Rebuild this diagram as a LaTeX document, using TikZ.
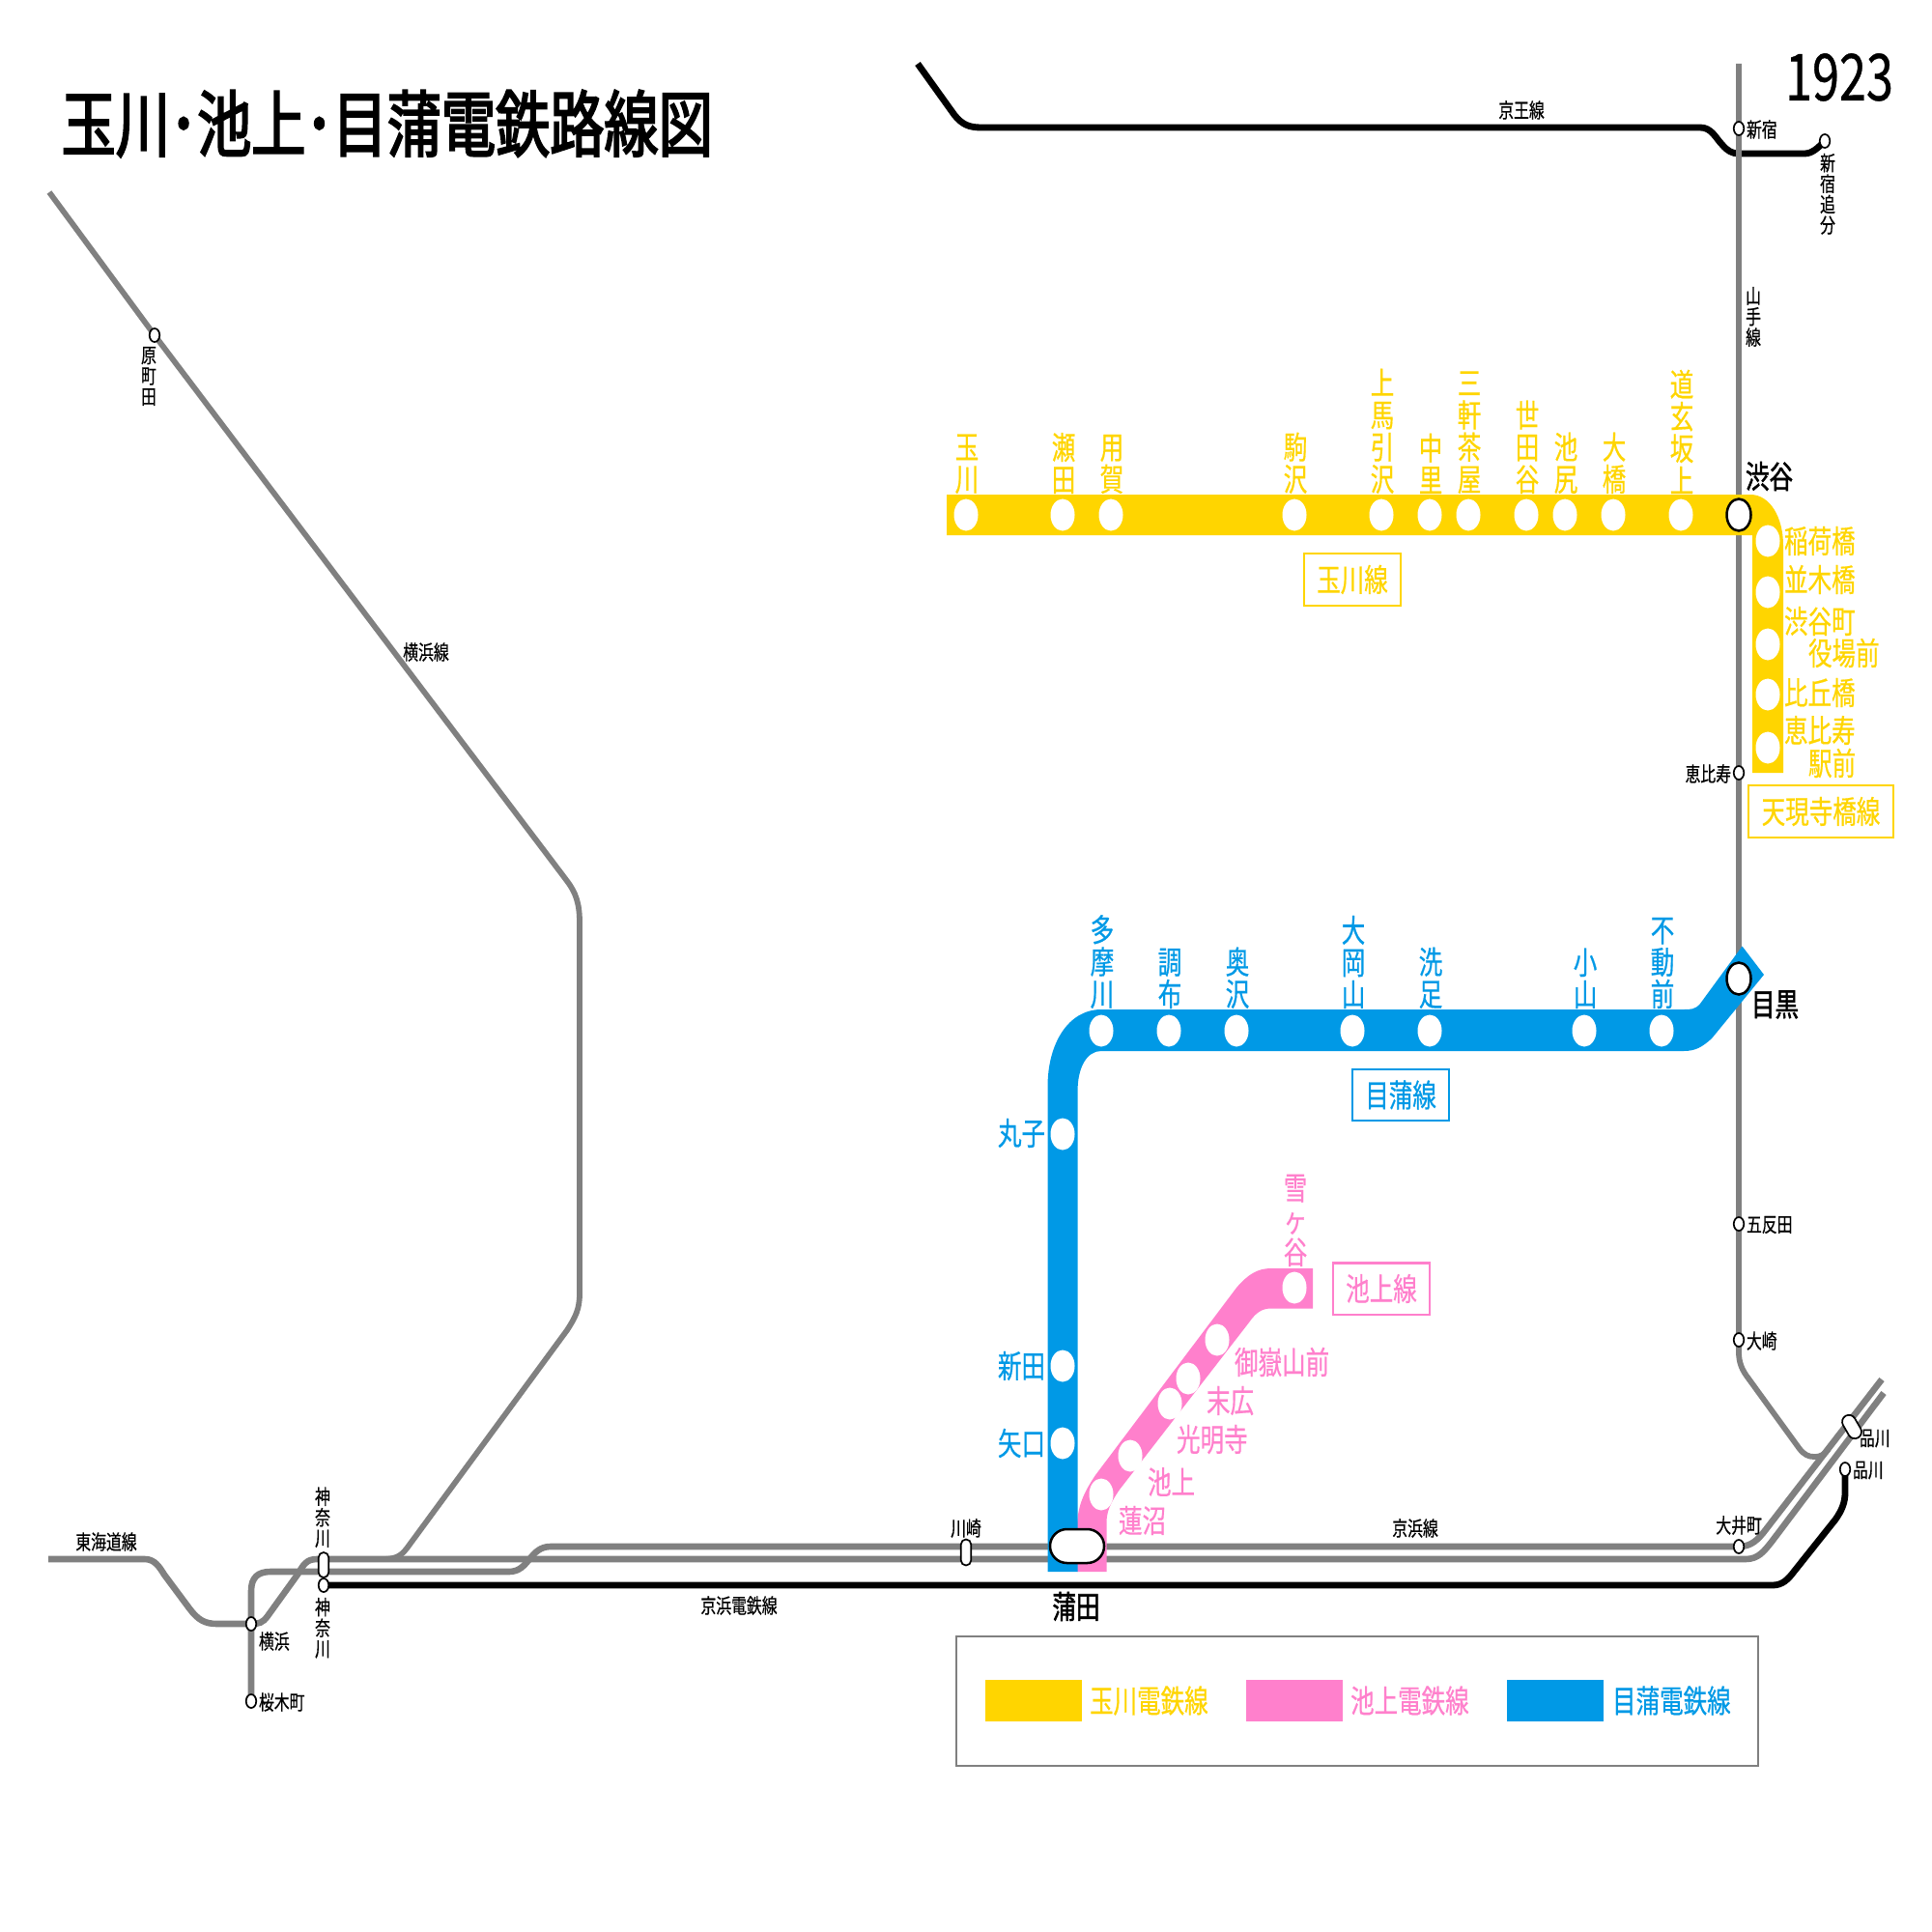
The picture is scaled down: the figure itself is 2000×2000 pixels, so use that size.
\documentclass[tikz,border=0pt]{standalone}
\usepackage{fontspec}
\setmainfont[FakeStretch=.75,FakeBold=.5]{Noto Sans CJK JP}
\newfontfamily\heavyfont[FakeStretch=.75,FakeBold=1.6]{Noto Sans CJK JP}
\newfontfamily\titlefont[FakeStretch=.75,FakeBold=2.6]{Noto Sans CJK JP}
\usetikzlibrary{shapes.geometric,shapes.misc,backgrounds}
\definecolor{tamaYellow}{HTML}{FFD500}
\definecolor{ikePink}{HTML}{FF80CC}
\definecolor{mekaBlue}{HTML}{0099E6}
\definecolor{jrGray}{HTML}{808080}
\newcommand{\fbig}{\fontsize{9.3}{9.45}\selectfont}
\newcommand{\fsmall}{\fontsize{6}{6.1}\selectfont}
\lineskiplimit=-6pt
\tikzset{
  stn/.style={ellipse,fill=white,inner sep=0,outer sep=0,minimum width=2.5mm,minimum height=3.3mm},
  hub/.style={stn,draw=black,line width=.25mm},
  stop/.style={ellipse,draw=black,fill=white,line width=.17mm,inner sep=0,outer sep=0,minimum width=1.05mm,minimum height=1.4mm},
  capsule/.style={rounded rectangle,draw=black,fill=white,line width=.17mm,inner sep=0,outer sep=0,minimum height=1.05mm},
  txt/.style={inner sep=0,outer sep=0,align=center,font=\fsmall},
  ytxt/.style={inner sep=0,outer sep=0,align=center,font=\fbig,text=tamaYellow},
  ptxt/.style={inner sep=0,outer sep=0,align=center,font=\fbig,text=ikePink},
  btxt/.style={inner sep=0,outer sep=0,align=center,font=\fbig,text=mekaBlue},
  mtxt/.style={inner sep=0,outer sep=0,align=center,font=\fbig\heavyfont},
  gline/.style={draw=jrGray,line width=.66mm},
  thinline/.style={draw=jrGray,line width=.58mm},
  kline/.style={draw=black,line width=.68mm},
  linebox/.style={draw,line width=.2mm,minimum width=10mm,minimum height=5.3mm,inner sep=0,outer sep=0,font=\fbig},
  swatch/.style={minimum width=10mm,minimum height=4.3mm,inner sep=0,outer sep=0}
}
\begin{document}
\begin{tikzpicture}[x=.01cm,y=-.01cm]
\useasboundingbox (0,0) rectangle (2000,2000);
\node[inner sep=0,anchor=west,font=\fontsize{21.3}{21.3}\selectfont\titlefont] (title) at (63,128) {玉川･池上･目蒲電鉄路線図};
\node[inner sep=0,font=\fontsize{19.1}{19}\selectfont] (year) at (1904,80) {1923};
% tamagawa line
\node[stn] (tamagawa) at (1000,533) {};
\node[stn] (seta) at (1100,533) {};
\node[stn] (yoga) at (1150,533) {};
\node[stn] (komazawa) at (1340,533) {};
\node[stn] (kamiuma) at (1430,533) {};
\node[stn] (nakazato) at (1480,533) {};
\node[stn] (sangen) at (1520,533) {};
\node[stn] (setagaya) at (1580,533) {};
\node[stn] (ikejiri) at (1620,533) {};
\node[stn] (ohashi) at (1670,533) {};
\node[stn] (dogen) at (1740,533) {};
\node[hub] (shibuya) at (1800,533) {};
\node[stn] (inari) at (1830,560) {};
\node[stn] (namiki) at (1830,613) {};
\node[stn] (yakuba) at (1830,667) {};
\node[stn] (hikuhashi) at (1830,719) {};
\node[stn] (ebisueki) at (1830,774) {};
\node[ytxt,anchor=south] (tamagawaT) at (1001,511) {玉\\川};
\node[ytxt,anchor=south] (setaT) at (1101,511) {瀬\\田};
\node[ytxt,anchor=south] (yogaT) at (1151,511) {用\\賀};
\node[ytxt,anchor=south] (komazawaT) at (1341,511) {駒\\沢};
\node[ytxt,anchor=south] (kamiumaT) at (1431,511) {上\\馬\\引\\沢};
\node[ytxt,anchor=south] (nakazatoT) at (1481,511) {中\\里};
\node[ytxt,anchor=south] (sangenT) at (1521,511) {三\\軒\\茶\\屋};
\node[ytxt,anchor=south] (setagayaT) at (1581,511) {世\\田\\谷};
\node[ytxt,anchor=south] (ikejiriT) at (1621,511) {池\\尻};
\node[ytxt,anchor=south] (ohashiT) at (1671,511) {大\\橋};
\node[ytxt,anchor=south] (dogenT) at (1741,511) {道\\玄\\坂\\上};
\node[mtxt,anchor=west] (shibuyaT) at (1807,493) {渋谷};
\node[ytxt,anchor=west] (inariT) at (1847,560) {稲荷橋};
\node[ytxt,anchor=west] (namikiT) at (1847,600) {並木橋};
\node[ytxt,anchor=west] (yakubaT) at (1847,643) {渋谷町};
\node[ytxt,anchor=west] (yakubaU) at (1872,676) {役場前};
\node[ytxt,anchor=west] (hikuhashiT) at (1847,717) {比丘橋};
\node[ytxt,anchor=west] (ebisuekiT) at (1847,756) {恵比寿};
\node[ytxt,anchor=west] (ebisuekiU) at (1872,790) {駅前};
\node[linebox,draw=tamaYellow,text=tamaYellow] (tamaBox) at (1400,600) {玉川線};
\node[linebox,draw=tamaYellow,text=tamaYellow,minimum width=15mm] (tenBox) at (1885,840) {天現寺橋線};
% meguro line
\node[hub] (meguro) at (1800,1013) {};
\node[stn] (fudomae) at (1720,1067) {};
\node[stn] (koyama) at (1640,1067) {};
\node[stn] (senzoku) at (1480,1067) {};
\node[stn] (ookayama) at (1400,1067) {};
\node[stn] (okusawa) at (1280,1067) {};
\node[stn] (chofu) at (1210,1067) {};
\node[stn] (tamagawaM) at (1140,1067) {};
\node[stn] (maruko) at (1100,1174) {};
\node[stn] (nitta) at (1100,1414) {};
\node[stn] (yaguchi) at (1100,1494) {};
\node[btxt,anchor=south] (fudomaeT) at (1721,1044) {不\\動\\前};
\node[btxt,anchor=south] (koyamaT) at (1641,1044) {小\\山};
\node[btxt,anchor=south] (senzokuT) at (1481,1044) {洗\\足};
\node[btxt,anchor=south] (ookayamaT) at (1401,1044) {大\\岡\\山};
\node[btxt,anchor=south] (okusawaT) at (1281,1044) {奥\\沢};
\node[btxt,anchor=south] (chofuT) at (1211,1044) {調\\布};
\node[btxt,anchor=south] (tamagawaMT) at (1141,1044) {多\\摩\\川};
\node[btxt,anchor=east] (marukoT) at (1082,1173) {丸子};
\node[btxt,anchor=east] (nittaT) at (1082,1414) {新田};
\node[btxt,anchor=east] (yaguchiT) at (1082,1494) {矢口};
\node[mtxt,anchor=west] (meguroT) at (1813,1040) {目黒};
\node[linebox,draw=mekaBlue,text=mekaBlue] (mekaBox) at (1450,1133.5) {目蒲線};
% ikegami line
\node[stn] (hasunuma) at (1140,1547) {};
\node[stn] (ikegami) at (1170,1507) {};
\node[stn] (komyoji) at (1211,1453) {};
\node[stn] (suehiro) at (1230,1427) {};
\node[stn] (ontake) at (1260,1387) {};
\node[stn] (yukigaya) at (1340,1333) {};
\node[ptxt,anchor=south] (yukigayaT) at (1341,1311) {雪\\ヶ\\谷};
\node[ptxt,anchor=west] (hasunumaT) at (1158,1574) {蓮沼};
\node[ptxt,anchor=west] (ikegamiT) at (1188,1534) {池上};
\node[ptxt,anchor=west] (komyojiT) at (1218,1490) {光明寺};
\node[ptxt,anchor=west] (suehiroT) at (1249,1450) {末広};
\node[ptxt,anchor=west] (ontakeT) at (1278,1410) {御嶽山前};
\node[linebox,draw=ikePink,text=ikePink] (ikeBox) at (1430,1334) {池上線};
% other stations
\node[rounded rectangle,draw=black,fill=white,line width=.25mm,inner sep=0,minimum width=5.6mm,minimum height=3.5mm] (kamata) at (1115,1600.5) {};
\node[mtxt] (kamataT) at (1114,1663) {蒲田};
\node[stop] (shinjuku) at (1800,133) {};
\node[stop] (oiwake) at (1889,146) {};
\node[stop] (ebisu) at (1800,800) {};
\node[stop] (gotanda) at (1800,1267) {};
\node[stop] (osaki) at (1800,1387) {};
\node[stop] (oimachi) at (1800,1601) {};
\node[stop] (shinagawaK) at (1910,1521) {};
\node[capsule,minimum width=2.6mm,minimum height=1.4mm,rotate=-60] (shinagawaJ) at (1917,1477) {};
\node[capsule,minimum width=2.7mm,rotate=90] (kawasaki) at (1000,1607) {};
\node[capsule,minimum width=2.6mm,rotate=90] (kanagawaJ) at (335,1620) {};
\node[stop] (kanagawaK) at (335,1641) {};
\node[stop] (yokohama) at (260,1681) {};
\node[stop] (sakuragi) at (260,1761) {};
\node[stop] (haramachi) at (160,347) {};
\node[txt] (keioT) at (1575,114) {京王線};
\node[txt,anchor=west] (shinjukuT) at (1808,134) {新宿};
\node[txt,anchor=north] (oiwakeT) at (1892,159) {新\\宿\\追\\分};
\node[txt,anchor=north] (yamanoteT) at (1815,297) {山\\手\\線};
\node[txt,anchor=east] (ebisuT) at (1792,801) {恵比寿};
\node[txt,anchor=west] (gotandaT) at (1808,1268) {五反田};
\node[txt,anchor=west] (osakiT) at (1808,1388) {大崎};
\node[txt] (oimachiT) at (1800,1579) {大井町};
\node[txt] (keihinT) at (1465,1582) {京浜線};
\node[txt,anchor=west] (shinagawaJT) at (1925,1489) {品川};
\node[txt,anchor=west] (shinagawaKT) at (1918,1522) {品川};
\node[txt] (kawasakiT) at (1000,1582) {川崎};
\node[txt] (keidenT) at (765,1662) {京浜電鉄線};
\node[txt] (tokaidoT) at (110,1596) {東海道線};
\node[txt,anchor=south] (kanagawaJT) at (334,1602) {神\\奈\\川};
\node[txt,anchor=north] (kanagawaKT) at (334,1654) {神\\奈\\川};
\node[txt,anchor=west] (yokohamaT) at (268,1699) {横浜};
\node[txt,anchor=west] (sakuragiT) at (268,1762) {桜木町};
\node[txt,anchor=north] (haramachiT) at (154,359) {原\\町\\田};
\node[txt] (yokosenT) at (441,675) {横浜線};
% legend
\node[draw=jrGray,line width=.2mm,fill=white,minimum width=82.9mm,minimum height=13.4mm,inner sep=0,outer sep=0] (legend) at (1405,1761) {};
\node[swatch,fill=tamaYellow] (tamaKey) at (1070,1760.5) {};
\node[swatch,fill=ikePink] (ikeKey) at (1340,1760.5) {};
\node[swatch,fill=mekaBlue] (mekaKey) at (1610,1760.5) {};
\node[ytxt,anchor=west] (tamaKeyT) at (tamaKey.east) [xshift=.8mm] {玉川電鉄線};
\node[ptxt,anchor=west] (ikeKeyT) at (ikeKey.east) [xshift=.8mm] {池上電鉄線};
\node[btxt,anchor=west] (mekaKeyT) at (mekaKey.east) [xshift=.9mm] {目蒲電鉄線};
\coordinate (keioEnd) at (950,66);
\coordinate (yamaEnd) at (1800,66);
\coordinate (upEnd) at (1948,1428);
\coordinate (lowEnd) at (1950,1442);
\coordinate (tokaiEnd) at (50,1614);
\coordinate (yokoEnd) at (51,199);
\begin{pgfonlayer}{background}
\draw[kline] (keioEnd) -- (988,119) .. controls (996,129) and (1003,132) .. (1016,132) -- (1760,132) .. controls (1772,132) and (1776,143) .. (1783,150) .. controls (1788,156) and (1793,159) .. (1800,159) -- (1868,159) .. controls (1876,159) and (1882,153) .. (oiwake.center);
\draw[thinline] (yamaEnd) -- (shinjuku.center) -- (osaki.center) -- (1800,1400) .. controls (1800,1410) and (1803,1418) .. (1810,1427) -- (1863,1500) .. controls (1868,1506) and (1872,1508) .. (1878,1508) .. controls (1886,1508) and (1889,1505) .. (1893,1500);
\draw[gline] (sakuragi.center) -- (yokohama.center) -- (260,1647) .. controls (260,1633) and (267,1627) .. (280,1627) -- (527,1627) .. controls (548,1627) and (548,1601) .. (570,1601) -- (oimachi.center) .. controls (1813,1601) and (1820,1594) .. (1829,1582) -- (upEnd);
\draw[gline] (tokaiEnd) -- (150,1614) .. controls (160,1614) and (165,1622) .. (170,1630) -- (196,1665) .. controls (205,1677) and (212,1681) .. (225,1681) -- (yokohama.center) .. controls (268,1681) and (272,1680) .. (277,1673) -- (308,1630) .. controls (314,1620) and (317,1614) .. (328,1614) -- (1807,1614) .. controls (1820,1614) and (1826,1606) .. (1834,1596) -- (lowEnd);
\draw[thinline] (yokoEnd) -- (haramachi.center) -- (587,912) .. controls (596,924) and (600,935) .. (600,955) -- (600,1339) .. controls (600,1355) and (596,1363) .. (587,1377) -- (421,1603) .. controls (414,1612) and (408,1614) .. (395,1614);
\draw[kline] (kanagawaK.center) -- (1835,1641) .. controls (1845,1641) and (1851,1635) .. (1857,1627) -- (1900,1573) .. controls (1907,1563) and (1910,1555) .. (1910,1545) -- (shinagawaK.center);
% colour bands
\fill[tamaYellow] (980,512) -- (1812,512) .. controls (1832,512) and (1846,535) .. (1846,565) -- (1846,800) -- (1814,800) -- (1814,554) -- (980,554) -- cycle;
\fill[ikePink] (1115,1627) -- (1115,1578) .. controls (1116,1558) and (1122,1545) .. (1134,1527) -- (1280,1333) .. controls (1292,1319) and (1302,1313) .. (1316,1313) -- (1359,1313) -- (1359,1354.5) -- (1316,1354.5) .. controls (1306,1354.5) and (1300,1359) .. (1293,1369) -- (1159,1542) .. controls (1150,1555) and (1145,1565) .. (1145.5,1578) -- (1145.5,1627) -- cycle;
\fill[mekaBlue] (1084.5,1627) -- (1084.5,1125) .. controls (1084.5,1080) and (1106,1045) .. (1140,1045) -- (1743,1045) .. controls (1750,1045) and (1755,1045) .. (1760,1039) -- (1803.5,979.5) -- (1826,1009) -- (1772,1075) .. controls (1762,1084) and (1755,1088) .. (1743,1088) -- (1140,1088) .. controls (1125,1088) and (1115.5,1105) .. (1115.5,1130) -- (1115.5,1627) -- cycle;
\end{pgfonlayer}
\end{tikzpicture}
\end{document}
